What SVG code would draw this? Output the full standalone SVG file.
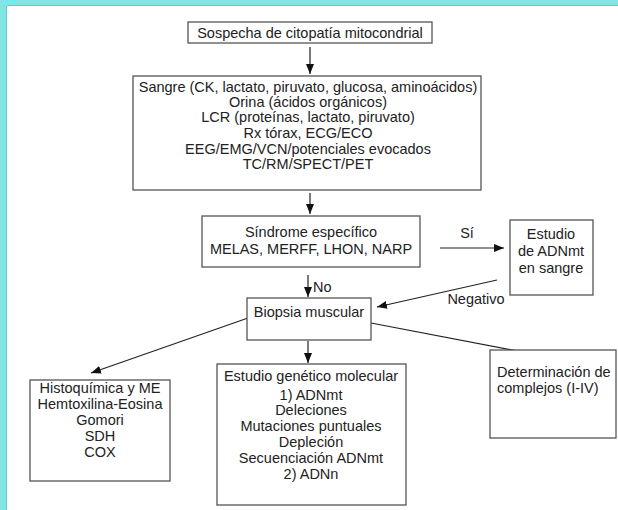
<svg xmlns="http://www.w3.org/2000/svg" width="618" height="510" viewBox="0 0 618 510">
<defs>
<style>
.box{fill:#fff;stroke:#555;stroke-width:1.3}
.t{font-family:"Liberation Sans",Arial,sans-serif;font-size:14.5px;fill:#222;text-anchor:middle}
.l{text-anchor:start}
.c{fill:none;stroke:#222;stroke-width:1.2}
</style>
<marker id="ah" markerUnits="userSpaceOnUse" markerWidth="10" markerHeight="10" viewBox="0 0 10 10" refX="10" refY="5" orient="auto">
<path d="M0,1 L10,5 L0,9 Z" fill="#111"/>
</marker>
</defs>
<rect x="0" y="0" width="618" height="510" fill="#fff"/>
<rect x="0" y="0" width="618" height="5" fill="#80e5e3"/>
<rect x="0" y="0" width="6" height="510" fill="#80e5e3"/>
<path d="M6.5,510 V5.5 H618" fill="none" stroke="#5cc8f2" stroke-width="1"/>

<g id="connectors">
<path class="c" d="M310,47 V74" marker-end="url(#ah)"/>
<path class="c" d="M310,193 V214" marker-end="url(#ah)"/>
<path class="c" d="M440,248 H504" marker-end="url(#ah)"/>
<text class="t" x="467" y="238">Sí</text>
<path class="c" d="M497,280 L377,307" marker-end="url(#ah)"/>
<text class="t" x="476" y="304">Negativo</text>
<path class="c" d="M308,275 V297" marker-end="url(#ah)"/>
<text class="t l" x="313" y="292">No</text>
<path class="c" d="M248,318 L91,373" marker-end="url(#ah)"/>
<path class="c" d="M308,341 V363" marker-end="url(#ah)"/>
<path class="c" d="M371,323 L554,358" marker-end="url(#ah)"/>
</g>

<g id="sospecha">
<rect class="box" x="188" y="22" width="244" height="21"/>
<text class="t" x="310" y="38">Sospecha de citopatía mitocondrial</text>
</g>

<g id="pruebas">
<rect class="box" x="133" y="76" width="348" height="114"/>
<text class="t" x="308" y="92">Sangre (CK, lactato, piruvato, glucosa, aminoácidos)</text>
<text class="t" x="308" y="107">Orina (ácidos orgánicos)</text>
<text class="t" x="308" y="122">LCR (proteínas, lactato, piruvato)</text>
<text class="t" x="308" y="138">Rx tórax, ECG/ECO</text>
<text class="t" x="308" y="154">EEG/EMG/VCN/potenciales evocados</text>
<text class="t" x="308" y="169">TC/RM/SPECT/PET</text>
</g>

<g id="sindrome">
<rect class="box" x="202" y="216" width="218" height="51"/>
<text class="t" x="311" y="237">Síndrome específico</text>
<text class="t" x="311" y="254">MELAS, MERFF, LHON, NARP</text>
</g>

<g id="estudio-sangre">
<rect class="box" x="510" y="220" width="83" height="75"/>
<text class="t" x="551" y="239">Estudio</text>
<text class="t" x="551" y="256">de ADNmt</text>
<text class="t" x="551" y="273">en sangre</text>
</g>

<g id="biopsia">
<rect class="box" x="247" y="298" width="124" height="42"/>
<text class="t" x="309" y="317">Biopsia muscular</text>
</g>

<g id="histoquimica">
<rect class="box" x="30" y="380" width="140" height="101"/>
<text class="t" x="100" y="393">Histoquímica y ME</text>
<text class="t" x="100" y="409">Hemtoxilina-Eosina</text>
<text class="t" x="100" y="425">Gomori</text>
<text class="t" x="100" y="441">SDH</text>
<text class="t" x="100" y="457">COX</text>
</g>

<g id="genetico">
<rect class="box" x="217" y="364" width="189" height="141"/>
<text class="t" x="311" y="381">Estudio genético molecular</text>
<text class="t" x="311" y="400">1) ADNmt</text>
<text class="t" x="311" y="415">Deleciones</text>
<text class="t" x="311" y="431">Mutaciones puntuales</text>
<text class="t" x="311" y="447">Depleción</text>
<text class="t" x="311" y="463">Secuenciación ADNmt</text>
<text class="t" x="311" y="479">2) ADNn</text>
</g>

<g id="complejos">
<rect class="box" x="490" y="350" width="126" height="88"/>
<text class="t l" x="497" y="377">Determinación de</text>
<text class="t l" x="497" y="393">complejos (I-IV)</text>
</g>
</svg>
